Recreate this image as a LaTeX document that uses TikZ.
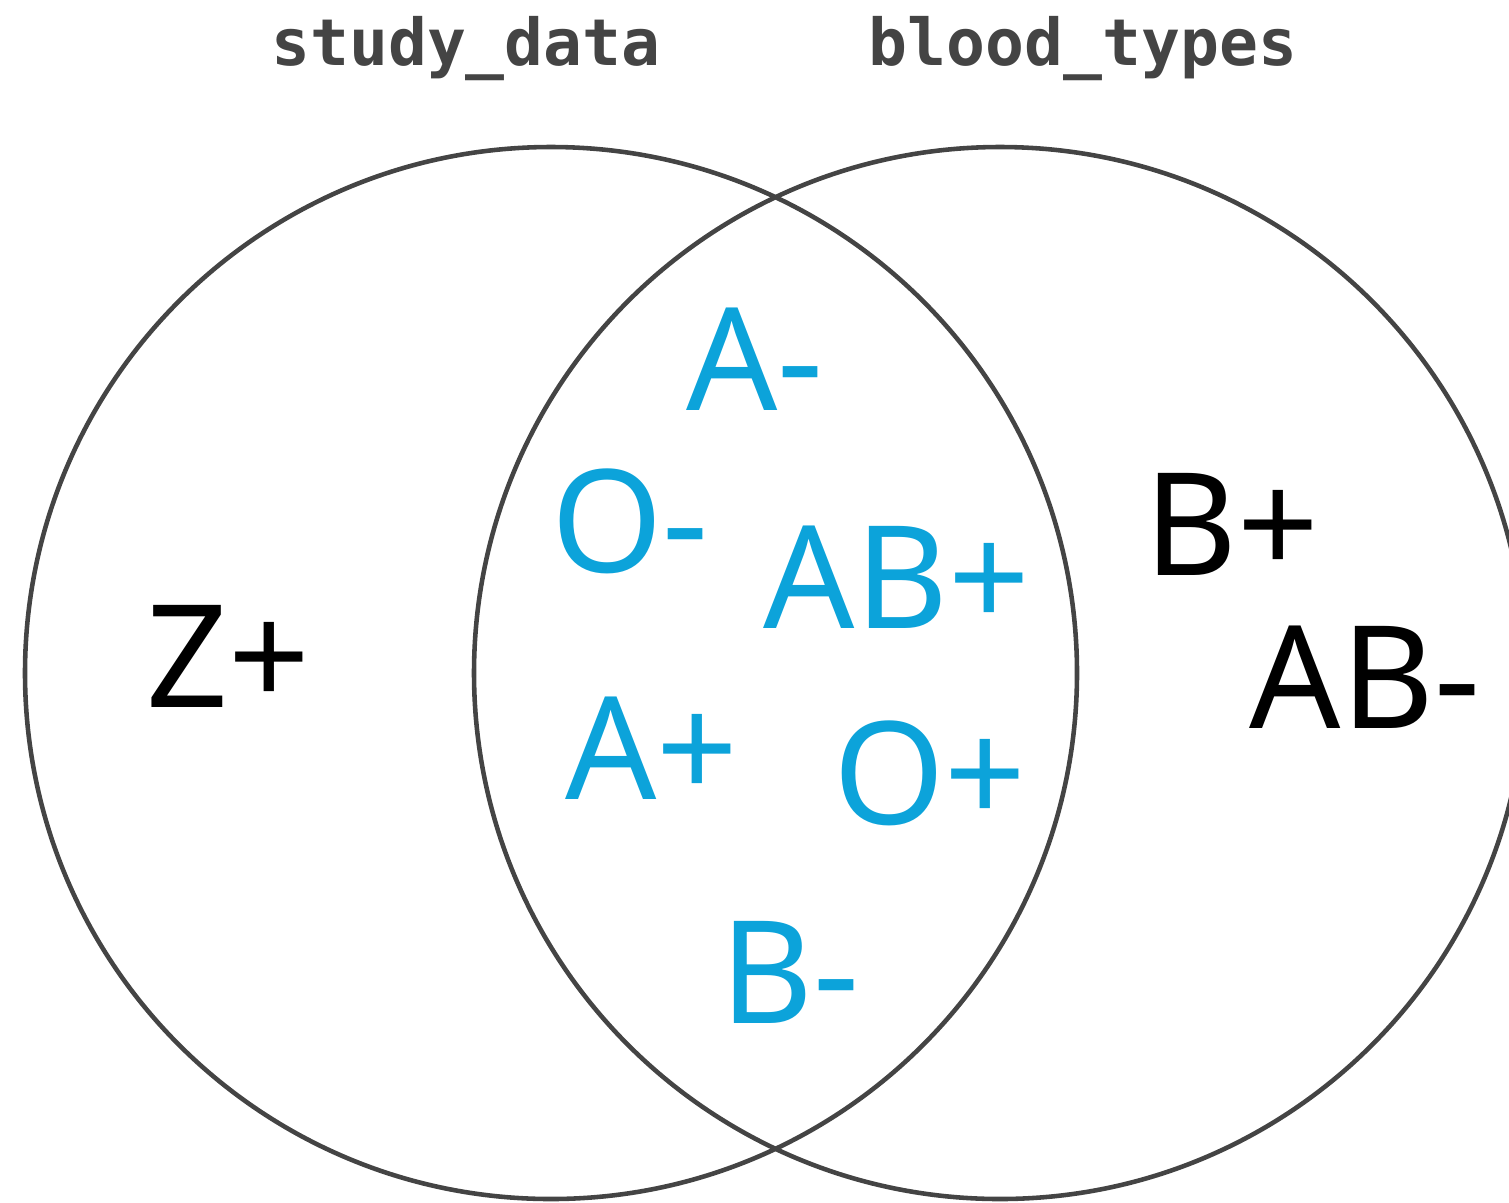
\documentclass[tikz,border=0pt]{standalone}
\usepackage{fontspec}
\setsansfont{Noto Sans}
\setmonofont{DejaVu Sans Mono}
\definecolor{setline}{HTML}{444444}
\definecolor{shared}{HTML}{0CA3DA}
\tikzset{
  set/.style={circle, draw=setline, line width=1.3pt, minimum size=105.2mm, inner sep=0pt, outer sep=0pt},
  settitle/.style={anchor=base, text=setline, font=\fontsize{18.4pt}{20pt}\ttfamily\bfseries},
  item/.style={anchor=base, inner sep=0pt, font=\fontsize{40.7pt}{44pt}\sffamily},
  both/.style={item, text=shared},
  only/.style={item, text=black}
}
\begin{document}
\begin{tikzpicture}[x=0.1mm, y=-0.1mm]
    \clip (0,0) rectangle (1509,1202);

    % Sets
    \node (study) [set] at (551, 673) {};
    \node (blood) [set] at (1000, 673) {};
    \node (studyname) [settitle] at (466, 65) {study\_data};
    \node (bloodname) [settitle] at (1083, 65) {blood\_types};

    % Only in study_data
    \node (zpos) [only] at (228, 707) {Z+};

    % In both
    \node (aneg) [both] at (755, 410) {A-};
    \node (oneg) [both] at (630, 572) {O-};
    \node (abpos) [both] at (897, 628) {AB+};
    \node (apos) [both] at (652, 799) {A+};
    \node (opos) [both] at (930, 824) {O+};
    \node (bneg) [both] at (790, 1023) {B-};

    % Only in blood_types
    \node (bpos) [only] at (1232, 575) {B+};
    \node (abneg) [only] at (1365, 728) {AB-};

\end{tikzpicture}
\end{document}
